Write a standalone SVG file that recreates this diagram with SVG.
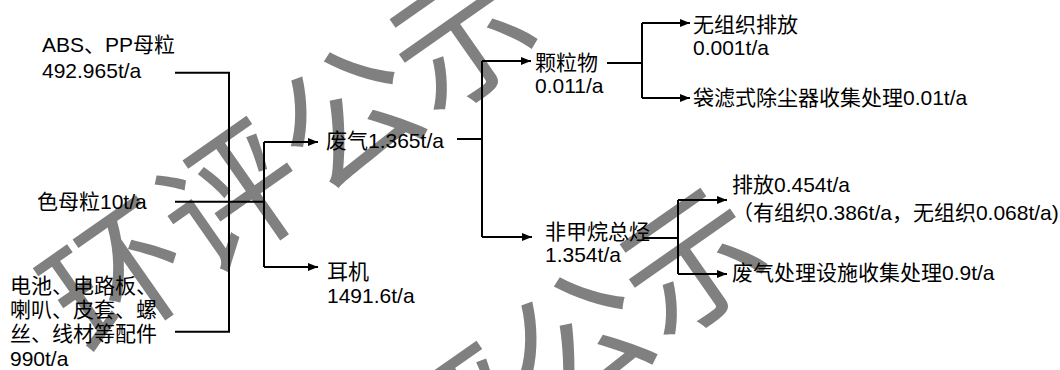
<svg xmlns="http://www.w3.org/2000/svg" width="1060" height="370" viewBox="0 0 1060 370">
<style>
.t{font-family:"Liberation Sans","Noto Sans CJK SC",sans-serif;font-size:21px;fill:#000}
.c{fill:none;stroke:#000;stroke-width:2}
.wm{font-family:"Noto Sans CJK SC",sans-serif;font-size:140px;fill:#808080}
</style>
<defs>
<marker id="ah" markerWidth="10" markerHeight="8" refX="10" refY="4" orient="auto" markerUnits="userSpaceOnUse">
<path d="M0,0 L10,4 L0,8 Z" fill="#000"/>
</marker>
</defs>
<rect width="1060" height="370" fill="#fff"/>
<g id="watermark">
<text class="wm" x="90" y="360" transform="rotate(-35 90 360)">环评公示</text>
<text class="wm" x="320" y="585" transform="rotate(-35 320 585)">环评公示</text>
</g>
<g id="connectors">
<path class="c" d="M175,72.7 H229 V331.7 H175"/>
<path class="c" d="M175,201.7 H264"/>
<path class="c" d="M264,142 V267"/>
<path class="c" d="M264,142 H318" marker-end="url(#ah)"/>
<path class="c" d="M264,267 H318" marker-end="url(#ah)"/>
<path class="c" d="M457,139 H482"/>
<path class="c" d="M482,61 V237"/>
<path class="c" d="M482,61 H531" marker-end="url(#ah)"/>
<path class="c" d="M482,237 H532" marker-end="url(#ah)"/>
<path class="c" d="M607,63 H642"/>
<path class="c" d="M642,23 V98"/>
<path class="c" d="M642,23 H690" marker-end="url(#ah)"/>
<path class="c" d="M642,98 H690" marker-end="url(#ah)"/>
<path class="c" d="M643,238 H678"/>
<path class="c" d="M678,200 V274"/>
<path class="c" d="M678,200 H727" marker-end="url(#ah)"/>
<path class="c" d="M678,274 H727" marker-end="url(#ah)"/>
</g>
<g id="n-abs"><text class="t" x="42" y="52">ABS、PP母粒</text><text class="t" x="42" y="77.5">492.965t/a</text></g>
<g id="n-color"><text class="t" x="37" y="209">色母粒10t/a</text></g>
<g id="n-parts"><text class="t" x="10" y="293">电池、电路板、</text><text class="t" x="10" y="317">喇叭、皮套、螺</text><text class="t" x="10" y="341">丝、线材等配件</text><text class="t" x="10" y="366">990t/a</text></g>
<g id="n-gas"><text class="t" x="326" y="148">废气1.365t/a</text></g>
<g id="n-earphone"><text class="t" x="327" y="279">耳机</text><text class="t" x="327" y="303">1491.6t/a</text></g>
<g id="n-particle"><text class="t" x="535" y="70">颗粒物</text><text class="t" x="535" y="93">0.011/a</text></g>
<g id="n-nmhc"><text class="t" x="545" y="239">非甲烷总烃</text><text class="t" x="545" y="261.5">1.354t/a</text></g>
<g id="n-fugitive"><text class="t" x="693" y="32">无组织排放</text><text class="t" x="693" y="55">0.001t/a</text></g>
<g id="n-bag"><text class="t" x="693" y="105">袋滤式除尘器收集处理0.01t/a</text></g>
<g id="n-emit"><text class="t" x="732" y="192">排放0.454t/a</text><text class="t" x="732" y="220">（有组织0.386t/a，无组织0.068t/a)</text></g>
<g id="n-treat"><text class="t" x="732" y="280">废气处理设施收集处理0.9t/a</text></g>
</svg>
